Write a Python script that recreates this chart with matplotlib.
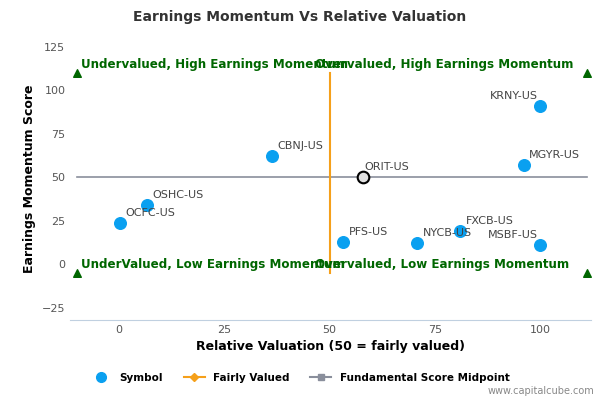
import matplotlib
matplotlib.use("Agg")
from matplotlib import pyplot as plt
from matplotlib.lines import Line2D

# data
symbols = ["OCFC-US", "OSHC-US", "CBNJ-US", "PFS-US", "NYCB-US",
           "FXCB-US", "MSBF-US", "MGYR-US", "KRNY-US"]
valuation = [0.2, 6.7, 36.4, 53.3, 70.7, 81.0, 100.0, 96.0, 100.0]
momentum = [24, 34, 62, 13, 12, 19, 11, 57, 91]
focus_symbol = "ORIT-US"
focus_val, focus_mom = 58, 50
fair_x = [50, 50]
fair_y = [-5, 110]
mid_x = [-10, 111]
mid_y = [50, 50]
corner_x = [-10, 111, -10, 111]
corner_y = [110, 110, -5, -5]
x_ticks = [0, 25, 50, 75, 100]
y_ticks = [-25, 0, 25, 50, 75, 100, 125]

fig = plt.figure(figsize=(6, 4), dpi=100)
ax = fig.add_axes([0.117, 0.2, 0.868, 0.705])
ax.set_xlim(-11.5, 112)
ax.set_ylim(-32, 130)

ax.plot(mid_x, mid_y, color="#8a8f9c", lw=1.2, zorder=1)
ax.plot(fair_x, fair_y, color="#f5a01a", lw=1.5, zorder=1)
ax.scatter(corner_x, corner_y, marker="^", color="#006600", s=30, zorder=3)
ax.scatter(valuation, momentum, color="#0aa0f0", s=70, zorder=3)
ax.scatter([focus_val], [focus_mom], facecolor="#e0e0e0", edgecolor="black",
           linewidth=1.5, s=70, zorder=4)

left_labels = {"KRNY-US", "MSBF-US"}
for s, xv, yv in zip(symbols, valuation, momentum):
    if s in left_labels:
        ax.annotate(s, (xv, yv), xytext=(-2, 5), textcoords="offset points",
                    fontsize=8, color="#444444", ha="right")
    else:
        ax.annotate(s, (xv, yv), xytext=(4, 5), textcoords="offset points",
                    fontsize=8, color="#444444")
ax.annotate(focus_symbol, (focus_val, focus_mom), xytext=(1, 5),
            textcoords="offset points", fontsize=8, color="#444444")

green = "#006600"
ax.text(-9, 115, "Undervalued, High Earnings Momentum", color=green,
        fontsize=8.6, weight="bold", va="center")
ax.text(46.5, 115, "Overvalued, High Earnings Momentum", color=green,
        fontsize=8.6, weight="bold", va="center")
ax.text(-9, 0, "UnderValued, Low Earnings Momentum", color=green,
        fontsize=8.6, weight="bold", va="center")
ax.text(46.5, 0, "Overvalued, Low Earnings Momentum", color=green,
        fontsize=8.6, weight="bold", va="center")

ax.set_xticks(x_ticks)
ax.set_yticks(y_ticks)
ax.tick_params(labelsize=8, colors="#555555", length=0)
for sp in ["top", "right", "left"]:
    ax.spines[sp].set_visible(False)
ax.spines["bottom"].set_color("#c0d0e0")
ax.set_xlabel("Relative Valuation (50 = fairly valued)", fontsize=9, weight="bold")
ax.set_ylabel("Earnings Momentum Score", fontsize=9, weight="bold")
fig.suptitle("Earnings Momentum Vs Relative Valuation", x=0.5, y=0.975,
             fontsize=10, weight="bold", color="#333333")

handles = [
    Line2D([], [], marker="o", color="#0aa0f0", ls="none", markersize=7),
    Line2D([], [], marker="D", color="#f5a01a", markersize=4),
    Line2D([], [], marker="s", color="#8a8f9c", markersize=5),
]
fig.legend(handles, ["Symbol", "Fairly Valued", "Fundamental Score Midpoint"],
           loc="lower center", bbox_to_anchor=(0.5, 0.02), ncol=3, frameon=False,
           prop={"size": 7.5, "weight": "bold"})
fig.text(0.99, 0.01, "www.capitalcube.com", ha="right", va="bottom",
         fontsize=7, color="#888888")

fig.savefig("out.png", dpi=100)
